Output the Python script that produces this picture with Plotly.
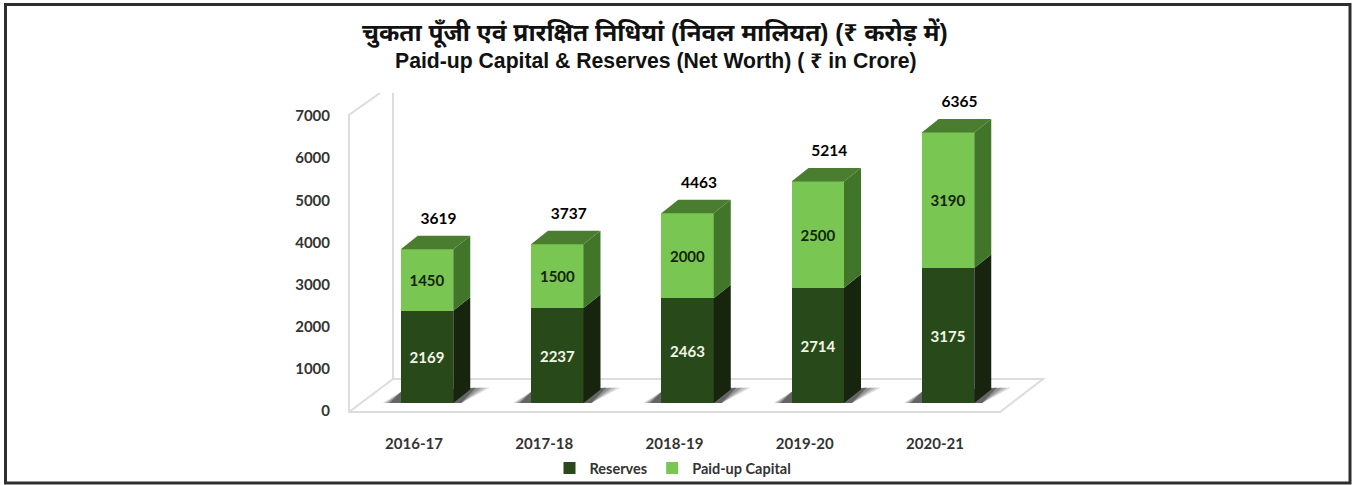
import plotly.graph_objects as go

years = ["2016-17", "2017-18", "2018-19", "2019-20", "2020-21"]
reserves = [2169, 2237, 2463, 2714, 3175]
capital = [1450, 1500, 2000, 2500, 3190]
totals = [3619, 3737, 4463, 5214, 6365]
y_ticks = [0, 1000, 2000, 3000, 4000, 5000, 6000, 7000]
title_hi = "चुकता पूँजी एवं प्रारक्षित निधियां (निवल मालियत) (₹ करोड़ में)"
title_en = "Paid-up Capital & Reserves (Net Worth) ( ₹ in Crore)"

W, H = 1354, 485
PL, PR, PT, PB = 345, 1050, 88, 430
X0, XS = 427.0, 130.25   # pixel of category 0, px per category
Y0, YS = 403.0, 0.0425   # pixel of value 0, px per unit


def dx(px):
    return px / XS


def dy(px):
    return px / YS


def fx(px):
    return (px - X0) / XS


def fy(py):
    return (Y0 - py) / YS


BW = 52.5 / XS
DX, DY = dx(17), dy(13.5)
n = range(len(years))
fig = go.Figure()


def poly(polys, color):
    xs, ys = [], []
    for p in polys:
        xs += [a for a, _ in p] + [p[0][0], None]
        ys += [b for _, b in p] + [p[0][1], None]
    fig.add_trace(go.Scatter(x=xs, y=ys, mode="lines", fill="toself", fillcolor=color,
                             line=dict(width=0), hoverinfo="skip", showlegend=False))


def path(pts, close=False):
    s = "M " + " L ".join(f"{a:.5f} {b:.3f}" for a, b in pts)
    return s + (" Z" if close else "")


def bg_line(pts, color, width):
    fig.add_shape(type="path", xref="x", yref="y", layer="below", path=path([(fx(a), fy(b)) for a, b in pts]),
                  line=dict(color=color, width=width), fillcolor="rgba(0,0,0,0)")


# walls and floor (behind the bars)
bg_line([(380, 93), (349, 115), (349, 412), (1000, 412), (1043, 379), (393, 379)], "#dcdcdc", 2)
bg_line([(393, 93), (393, 379), (349, 412)], "#dcdcdc", 2)

# cast shadows (soft, several layers, behind the bars)
for grow, col in [(1.0, "rgba(140,140,140,0.30)"), (0.88, "rgba(110,110,110,0.32)"),
                  (0.76, "rgba(80,80,80,0.36)"), (0.62, "rgba(45,45,45,0.45)")]:
    for i in n:
        right = i + BW / 2
        left = i - BW / 2
        fig.add_shape(type="path", xref="x", yref="y", layer="below", line=dict(width=0), fillcolor=col,
                      path=path([(left - dx(18) * grow, 0), (left, dy(11)),
                                 (right + dx(37) * grow, dy(15.5)), (right + dx(8), 0)], close=True))

# depth faces
poly([[(i + BW / 2, 0), (i + BW / 2 + DX, DY), (i + BW / 2 + DX, reserves[i] + DY), (i + BW / 2, reserves[i])] for i in n], "#17250f")
poly([[(i + BW / 2, reserves[i]), (i + BW / 2 + DX, reserves[i] + DY), (i + BW / 2 + DX, totals[i] + DY), (i + BW / 2, totals[i])] for i in n], "#41752a")
poly([[(i - BW / 2, totals[i]), (i - BW / 2 + DX, totals[i] + DY), (i + BW / 2 + DX, totals[i] + DY), (i + BW / 2, totals[i])] for i in n], "#4b7d30")

LBL = "Lato"
fig.add_trace(go.Bar(x=list(n), y=reserves, name="Reserves", width=BW, marker=dict(color="#284a1a", line=dict(width=0)),
                     text=[str(v) for v in reserves], textposition="inside", insidetextanchor="middle", textangle=0,
                     textfont=dict(family=LBL, size=15, color="#f2f6e4", weight="bold")))
fig.add_trace(go.Bar(x=list(n), y=capital, name="Paid-up Capital", width=BW, marker=dict(color="#79c653", line=dict(width=0)),
                     text=[str(v) for v in capital], textposition="inside", insidetextanchor="middle", textangle=0,
                     textfont=dict(family=LBL, size=15, color="#14240f", weight="bold")))
fig.add_trace(go.Scatter(x=[i + dx(11.5) for i in n], y=[t + dy(29) for t in totals], mode="text",
                         text=[str(t) for t in totals], textfont=dict(family=LBL, size=15.5, color="#000", weight="bold"),
                         hoverinfo="skip", showlegend=False))
# carrier for the offset value axis
fig.add_trace(go.Scatter(x=[0], y=[0], yaxis="y2", mode="markers", marker=dict(opacity=0), hoverinfo="skip", showlegend=False))

Y2S = 295 / 7000
fig.add_shape(type="rect", xref="paper", yref="paper",
              x0=(5.5 - PL) / (PR - PL), x1=(1350 - PL) / (PR - PL),
              y0=(PB - 483) / (PB - PT), y1=(PB - 4.5) / (PB - PT),
              line=dict(color="#2e2e2e", width=3), fillcolor="rgba(0,0,0,0)")


def title(text, py, size):
    fig.add_annotation(xref="paper", yref="paper", x=(655 - PL) / (PR - PL), y=(PB - py) / (PB - PT),
                       text=f"<b>{text}</b>", showarrow=False, xanchor="center", yanchor="middle",
                       font=dict(family="Liberation Sans, Noto Sans", size=size, color="#111"))


title(title_hi, 33, 24.5)
title(title_en, 61, 21.2)

fig.update_layout(
    width=W, height=H, margin=dict(l=PL, r=W - PR, t=PT, b=H - PB, autoexpand=False),
    paper_bgcolor="white", plot_bgcolor="white", barmode="stack", bargap=0,
    font=dict(family=LBL, color="#333"),
    xaxis=dict(range=[fx(PL), fx(PR)], tickmode="array", tickvals=[i + dx(-13) for i in n], ticktext=years,
               showgrid=False, zeroline=False, showline=False, ticks="", ticklabelstandoff=3,
               tickfont=dict(family=LBL, size=15, color="#333", weight="bold")),
    yaxis=dict(range=[fy(PB), fy(PT)], showgrid=False, zeroline=False, showline=False, showticklabels=False, ticks=""),
    yaxis2=dict(overlaying="y", side="left", range=[(411 - PB) / Y2S, (411 - PT) / Y2S], tickmode="array",
                tickvals=y_ticks, ticktext=[str(v) for v in y_ticks], showgrid=False, zeroline=False, showline=False,
                ticks="", ticklabelstandoff=14, tickfont=dict(family=LBL, size=15, color="#333", weight="bold")),
    legend=dict(orientation="h", xref="paper", yref="paper", x=(673 - PL) / (PR - PL), xanchor="center",
                y=(PB - 468) / (PB - PT), yanchor="middle", traceorder="normal", itemwidth=30,
                font=dict(family=LBL, size=14.5, color="#333", weight="bold"), bgcolor="rgba(0,0,0,0)"),
    showlegend=True,
)
fig.write_html("out.html", config={"displayModeBar": False},
               post_script="document.body.style.margin='0';document.documentElement.style.overflow='hidden';")
